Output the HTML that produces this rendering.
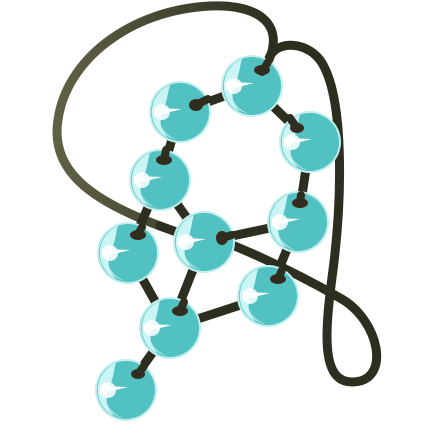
<!DOCTYPE html>
<html><head><meta charset="utf-8"><style>html,body{margin:0;padding:0;background:#fff;width:440px;height:440px;overflow:hidden}</style></head>
<body>
<svg width="440" height="440" viewBox="0 0 440 440">
<defs>
<linearGradient id="cg" x1="0" y1="0" x2="1" y2="0"><stop offset="0" stop-color="#5f6044"/><stop offset="1" stop-color="#2e2e20"/></linearGradient>
<g id="bead">
<circle r="31" fill="#c3eeee"/>
<circle r="29" fill="#52c1c2"/>
<path d="M-10,-27 A29,29 0 0 0 -2,28 C-14,24 -22,14 -22,0 C-22,-12 -16,-22 -10,-27Z" fill="#9fe3e3"/>
<path d="M-10,-27 A29,29 0 0 0 -12,26 C-20,18 -22,8 -16,-4 C-12,-14 -12,-22 -10,-27Z" fill="#c9f5f5"/>
<path d="M-26,-4 L2,-3 L-26,4Z" fill="#fff"/>
<circle cx="-18" cy="0" r="8" fill="#fff" opacity="0.85"/>
</g>
</defs>
<g fill="none" stroke-linecap="round">
<path d="M160,226 C90,200 50,170 58,120 C66,60 130,10 210,6 C260,4 285,25 268,62" stroke="url(#cg)" stroke-width="9"/>
<path d="M268,62 C272,40 305,40 320,60 C345,95 342,200 333,270 C325,330 320,382 352,382 C392,382 380,320 340,298 C300,275 260,256 220,240" stroke="#2e2e20" stroke-width="9"/>
<path d="M180,112 L252,86 L310,142 L298,222 L268,296 L170,328 L126,390 M180,112 L160,180 L204,242 L170,328 M160,180 L128,253 L170,328 M160,226 L204,242 L298,222" stroke="#2e2e20" stroke-width="9"/>
</g>
<g>
<use href="#bead" x="180" y="112"/>
<use href="#bead" x="252" y="86"/>
<use href="#bead" x="310" y="142"/>
<use href="#bead" x="160" y="180"/>
<use href="#bead" x="298" y="222"/>
<use href="#bead" x="128" y="253"/>
<use href="#bead" x="204" y="242"/>
<use href="#bead" x="268" y="296"/>
<use href="#bead" x="170" y="328"/>
<use href="#bead" x="126" y="390"/>
</g>
<g fill="#3b2a1e">
<ellipse cx="196" cy="105" rx="7" ry="6"/><ellipse cx="262" cy="70" rx="8" ry="5"/><ellipse cx="297" cy="128" rx="7" ry="5"/>
<ellipse cx="164" cy="160" rx="8" ry="5"/><ellipse cx="300" cy="203" rx="8" ry="5"/><ellipse cx="138" cy="235" rx="8" ry="5"/>
<ellipse cx="222" cy="238" rx="6" ry="7"/><ellipse cx="278" cy="279" rx="8" ry="5"/><ellipse cx="180" cy="311" rx="8" ry="5"/>
<ellipse cx="138" cy="374" rx="7" ry="5"/>
</g>
<g fill="none" stroke="#2e2e20" stroke-width="8" stroke-linecap="round">
<path d="M268,62 L262,72 M196,105 L208,99 M297,128 L290,118 M164,160 L166,150 M300,203 L301,195 M138,235 L142,227 M222,238 L232,235 M278,279 L282,270 M180,311 L184,302 M138,374 L144,366"/>
</g>
</svg>
</body></html>
